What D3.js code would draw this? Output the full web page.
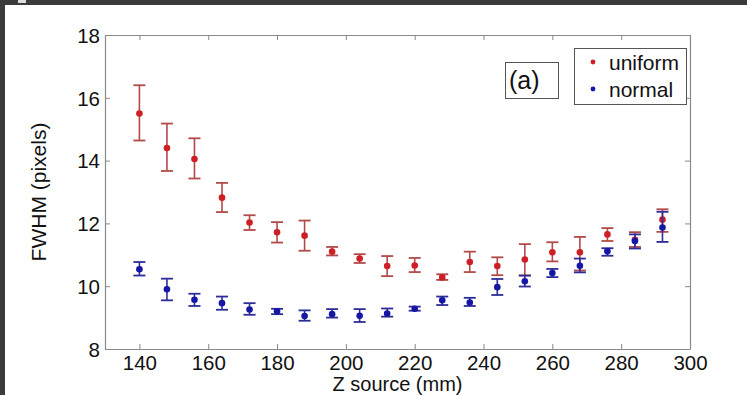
<!DOCTYPE html>
<html>
<head>
<meta charset="utf-8">
<script src="https://cdn.jsdelivr.net/npm/d3@7/dist/d3.min.js"></script>
<style>
	html, body { margin: 0; padding: 0; background: #ffffff; }
	svg { display: block; }
	text { font-family: 'Liberation Sans', Arial, sans-serif; fill: #111; }
</style>
</head>
<body>
<svg id="chart"></svg>
<script>
const WIDTH = 747;
const HEIGHT = 395;

// data
const zSource = [140, 148, 156, 164, 172, 180, 188, 196, 204, 212, 220, 228, 236, 244, 252, 260, 268, 276, 284, 292];

const uniformMean = [15.5, 14.4, 14.05, 12.82, 12.03, 11.72, 11.61, 11.1, 10.88, 10.64, 10.66, 10.28, 10.77, 10.64, 10.85, 11.08, 11.08, 11.65, 11.48, 12.12];
const uniformLow = [14.64, 13.67, 13.43, 12.36, 11.79, 11.39, 11.13, 10.98, 10.74, 10.32, 10.45, 10.2, 10.45, 10.35, 10.34, 10.79, 10.5, 11.44, 11.25, 11.73];
const uniformHigh = [16.4, 15.18, 14.71, 13.29, 12.26, 12.04, 12.09, 11.25, 11.02, 10.96, 10.9, 10.38, 11.1, 10.92, 11.34, 11.4, 11.57, 11.85, 11.72, 12.45];

const normalMean = [10.54, 9.9, 9.57, 9.46, 9.26, 9.2, 9.05, 9.11, 9.06, 9.13, 9.28, 9.55, 9.48, 9.97, 10.16, 10.42, 10.65, 11.11, 11.44, 11.87];
const normalLow = [10.34, 9.55, 9.37, 9.25, 9.09, 9.11, 8.9, 9.0, 8.86, 9.03, 9.22, 9.4, 9.37, 9.72, 9.99, 10.29, 10.44, 10.97, 11.2, 11.41];
const normalHigh = [10.77, 10.24, 9.76, 9.67, 9.46, 9.28, 9.23, 9.27, 9.27, 9.29, 9.35, 9.67, 9.63, 10.23, 10.34, 10.55, 10.88, 11.21, 11.65, 12.37];

const xTicks = [140, 160, 180, 200, 220, 240, 260, 280, 300];
const yTicks = [8, 10, 12, 14, 16, 18];

const seriesNames = ['uniform', 'normal'];

const margin = { left: 105, right: 57, top: 35, bottom: 46 };
const FONT = "'Liberation Sans', Arial, sans-serif";

const svg = d3.select('#chart')
	.attr('width', WIDTH)
	.attr('height', HEIGHT);

// dark frame around the screenshot
svg.append('rect').attr('x', 0).attr('y', 0).attr('width', WIDTH).attr('height', HEIGHT).attr('fill', '#3b3b3b');
svg.append('rect').attr('x', 5).attr('y', 5).attr('width', WIDTH - 5).attr('height', HEIGHT - 5).attr('fill', '#ffffff');
svg.append('rect').attr('x', 18).attr('y', 0).attr('width', 8).attr('height', 3).attr('fill', '#dddddd');

const x = d3.scaleLinear().domain([130, 300]).range([margin.left, WIDTH - margin.right]);
const y = d3.scaleLinear().domain([8, 18]).range([HEIGHT - margin.bottom, margin.top]);

const frameColor = '#8a8a8a';

// axes: bottom, top, left, right with inward ticks
const bottomAxis = svg.append('g')
	.attr('transform', `translate(0,${y(8)})`)
	.call(d3.axisBottom(x).tickValues(xTicks).tickSizeInner(-5).tickSizeOuter(0).tickPadding(6));
const topAxis = svg.append('g')
	.attr('transform', `translate(0,${y(18)})`)
	.call(d3.axisTop(x).tickValues(xTicks).tickSizeInner(-5).tickSizeOuter(0).tickFormat(''));
const leftAxis = svg.append('g')
	.attr('transform', `translate(${x(130)},0)`)
	.call(d3.axisLeft(y).tickValues(yTicks).tickSizeInner(-5).tickSizeOuter(0).tickPadding(5));
const rightAxis = svg.append('g')
	.attr('transform', `translate(${x(300)},0)`)
	.call(d3.axisRight(y).tickValues(yTicks).tickSizeInner(-5).tickSizeOuter(0).tickFormat(''));

[bottomAxis, topAxis, leftAxis, rightAxis].forEach((g) => {
	g.select('.domain').attr('stroke', frameColor).attr('stroke-width', 1.2);
	g.selectAll('.tick line').attr('stroke', frameColor);
	g.selectAll('.tick text')
		.style('font-family', FONT)
		.style('font-size', '20.5px')
		.attr('fill', '#111');
});
leftAxis.selectAll('.tick text').attr('dy', '0.36em');

// axis titles
svg.append('text')
	.attr('x', (x(130) + x(300)) / 2)
	.attr('y', 391)
	.attr('text-anchor', 'middle')
	.style('font-size', '20px')
	.text('Z source (mm)');

svg.append('text')
	.attr('transform', `translate(46,${(y(8) + y(18)) / 2}) rotate(-90)`)
	.attr('text-anchor', 'middle')
	.style('font-size', '21px')
	.text('FWHM (pixels)');

// series
const series = [
	{ name: seriesNames[0], mean: uniformMean, low: uniformLow, high: uniformHigh, dot: '#cf1f26', bar: '#b34a4a' },
	{ name: seriesNames[1], mean: normalMean, low: normalLow, high: normalHigh, dot: '#1616a6', bar: '#2d2d98' }
];

const capHalf = 6;

series.forEach((s) => {
	const pts = zSource.map((z, i) => ({ z, m: s.mean[i], lo: s.low[i], hi: s.high[i] }));
	const g = svg.append('g').attr('class', 'series-' + s.name);

	g.selectAll('line.err')
		.data(pts)
		.enter()
		.append('line')
		.attr('class', 'err')
		.attr('x1', (d) => x(d.z))
		.attr('x2', (d) => x(d.z))
		.attr('y1', (d) => y(d.lo))
		.attr('y2', (d) => y(d.hi))
		.attr('stroke', s.bar)
		.attr('stroke-width', 1.6);

	g.selectAll('line.cap-lo')
		.data(pts)
		.enter()
		.append('line')
		.attr('class', 'cap-lo')
		.attr('x1', (d) => x(d.z) - capHalf)
		.attr('x2', (d) => x(d.z) + capHalf)
		.attr('y1', (d) => y(d.lo))
		.attr('y2', (d) => y(d.lo))
		.attr('stroke', s.bar)
		.attr('stroke-width', 1.8);

	g.selectAll('line.cap-hi')
		.data(pts)
		.enter()
		.append('line')
		.attr('class', 'cap-hi')
		.attr('x1', (d) => x(d.z) - capHalf)
		.attr('x2', (d) => x(d.z) + capHalf)
		.attr('y1', (d) => y(d.hi))
		.attr('y2', (d) => y(d.hi))
		.attr('stroke', s.bar)
		.attr('stroke-width', 1.8);

	g.selectAll('circle')
		.data(pts)
		.enter()
		.append('circle')
		.attr('cx', (d) => x(d.z))
		.attr('cy', (d) => y(d.m))
		.attr('r', 3.3)
		.attr('fill', s.dot);
});

// (a) label box
svg.append('rect')
	.attr('x', 505.5).attr('y', 62.5)
	.attr('width', 53).attr('height', 36)
	.attr('fill', '#fff')
	.attr('stroke', '#555')
	.attr('stroke-width', 1);
svg.append('text')
	.attr('x', 509).attr('y', 89)
	.style('font-size', '25px')
	.text('(a)');

// legend
const legend = svg.append('g');
legend.append('rect')
	.attr('x', 574.5).attr('y', 48.5)
	.attr('width', 112).attr('height', 56)
	.attr('fill', '#fff')
	.attr('stroke', '#555')
	.attr('stroke-width', 1);
series.forEach((s, i) => {
	legend.append('circle')
		.attr('cx', 593)
		.attr('cy', 62 + i * 27)
		.attr('r', 2.4)
		.attr('fill', s.dot);
	legend.append('text')
		.attr('x', 609)
		.attr('y', 70 + i * 27)
		.style('font-size', '21px')
		.text(s.name);
});
</script>
</body>
</html>
